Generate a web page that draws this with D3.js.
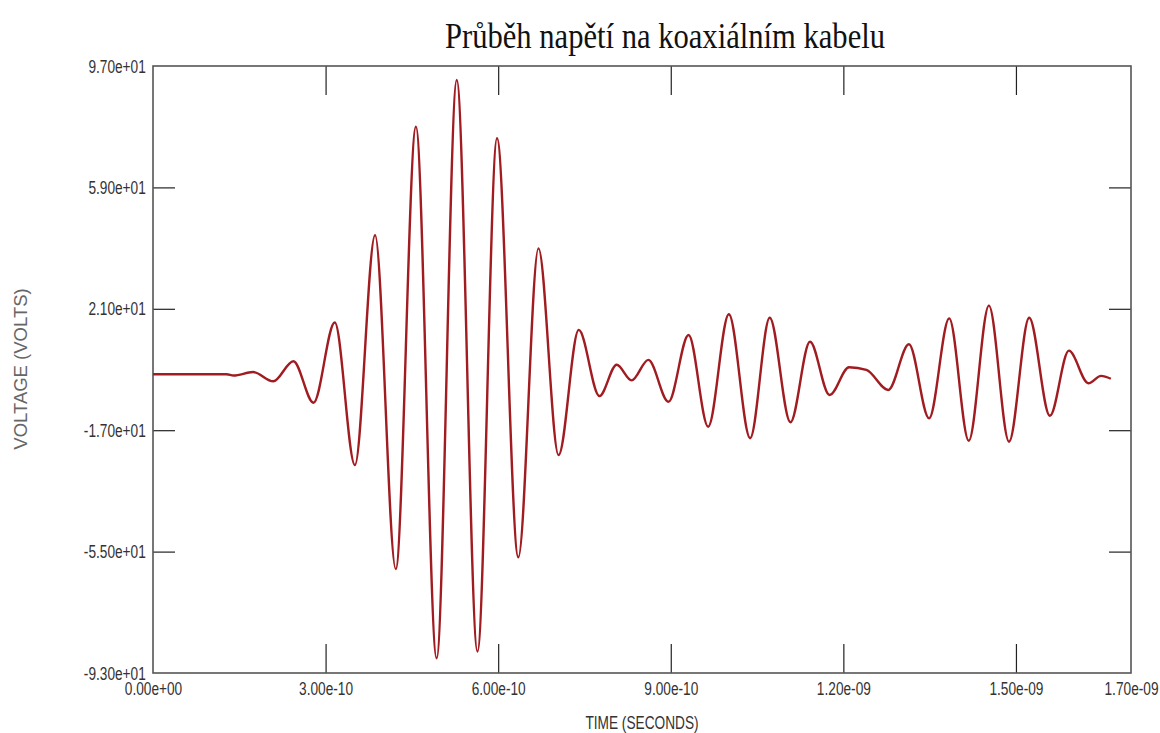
<!DOCTYPE html>
<html>
<head>
<meta charset="utf-8">
<script src="https://cdn.jsdelivr.net/npm/d3@7"></script>
<style>
  html, body { margin: 0; padding: 0; background: #fff; }
  svg { display: block; }
</style>
</head>
<body>
<svg id="chart" width="1160" height="733"></svg>
<script>
// ---- data ----
const titleText = "Průběh napětí na koaxiálním kabelu";
const xTitle = "TIME (SECONDS)";
const yTitle = "VOLTAGE (VOLTS)";

const xTickValues = [0, 3e-10, 6e-10, 9e-10, 1.2e-9, 1.5e-9, 1.7e-9];
const xTickLabels = ["0.00e+00", "3.00e-10", "6.00e-10", "9.00e-10", "1.20e-09", "1.50e-09", "1.70e-09"];
const yTickValues = [-93, -55, -17, 21, 59, 97];
const yTickLabels = ["-9.30e+01", "-5.50e+01", "-1.70e+01", "2.10e+01", "5.90e+01", "9.70e+01"];

// time in units of 1e-10 s, voltage in volts
const timeE10 = [0, 1.28, 1.40, 1.74, 2.09, 2.44, 2.79, 3.16, 3.51, 3.86, 4.22, 4.57, 4.93, 5.28, 5.64, 5.98,
  6.35, 6.70, 7.05, 7.40, 7.76, 8.06, 8.32, 8.61, 8.96, 9.31, 9.65, 10.01, 10.38, 10.72, 11.08, 11.42,
  11.76, 12.10, 12.40, 12.78, 13.14, 13.49, 13.84, 14.18, 14.53, 14.88, 15.23, 15.59, 15.92, 16.26, 16.48, 16.65];
const voltage = [0.5, 0.5, 0.1, 1.2, -1.7, 4.6, -8.4, 16.7, -27.9, 44.0, -60.5, 78.0, -88.4, 92.6, -86.3, 74.4,
  -56.8, 39.9, -24.8, 14.4, -6.3, 3.5, -1.4, 5.0, -8.1, 12.8, -15.9, 19.3, -19.5, 18.2, -14.5, 10.7,
  -6.0, 2.7, 1.9, -4.4, 9.9, -13.3, 18.0, -20.3, 22.0, -20.6, 18.2, -12.5, 7.9, -2.3, 0.0, -0.9];

// ---- drawing ----
const svg = d3.select("#chart");
const L = 153, R = 1131, T = 66, B = 673;
const sans = "'Liberation Sans', Arial, sans-serif";
const squeeze = "scale(0.72,1)";

const x = d3.scaleLinear().domain([xTickValues[0], xTickValues[xTickValues.length - 1]]).range([L, R]);
const y = d3.scaleLinear().domain([yTickValues[0], yTickValues[yTickValues.length - 1]]).range([B, T]);

const data = timeE10.map((t, i) => ({ t: t * 1e-10, v: voltage[i] }));

// title
svg.append("text")
  .attr("x", 665).attr("y", 48)
  .attr("text-anchor", "middle")
  .attr("font-family", "'Liberation Serif', 'Times New Roman', serif")
  .attr("font-size", 36)
  .attr("textLength", 440)
  .attr("lengthAdjust", "spacingAndGlyphs")
  .attr("fill", "#111")
  .text(titleText);

// inner tick marks
const innerX = xTickValues.slice(1, -1);
const innerY = yTickValues.slice(1, -1);
const tickStyle = g => { g.select(".domain").remove(); g.selectAll("line").attr("stroke", "#222").attr("stroke-width", 1.2); g.selectAll("text").remove(); };

svg.append("g").attr("transform", `translate(0,${B})`)
  .call(d3.axisBottom(x).tickValues(innerX).tickSize(-29).tickFormat(""))
  .call(tickStyle);
svg.append("g").attr("transform", `translate(0,${T})`)
  .call(d3.axisTop(x).tickValues(innerX).tickSize(-29).tickFormat(""))
  .call(tickStyle);
svg.append("g").attr("transform", `translate(${L},0)`)
  .call(d3.axisLeft(y).tickValues(innerY).tickSize(-22).tickFormat(""))
  .call(tickStyle);
svg.append("g").attr("transform", `translate(${R},0)`)
  .call(d3.axisRight(y).tickValues(innerY).tickSize(-22).tickFormat(""))
  .call(tickStyle);

// frame
svg.append("rect")
  .attr("x", L).attr("y", T).attr("width", R - L).attr("height", B - T)
  .attr("fill", "none").attr("stroke", "#555").attr("stroke-width", 1.6);

// tick labels (condensed look via horizontal squeeze)
const labelStyle = g => {
  g.select(".domain").remove();
  g.selectAll("line").remove();
  g.selectAll("text").attr("font-family", sans).attr("font-size", 19).attr("fill", "#333")
    .attr("transform", squeeze);
};
svg.append("g").attr("transform", `translate(0,${B})`)
  .call(d3.axisBottom(x).tickValues(xTickValues).tickSize(0).tickPadding(9).tickFormat((d, i) => xTickLabels[i]))
  .call(labelStyle);
svg.append("g").attr("transform", `translate(${L},0)`)
  .call(d3.axisLeft(y).tickValues(yTickValues).tickSize(0).tickPadding(10).tickFormat((d, i) => yTickLabels[i]))
  .call(labelStyle);

// axis titles
svg.append("g").attr("transform", `translate(${(L + R) / 2},729)`)
  .append("text")
  .attr("transform", squeeze)
  .attr("text-anchor", "middle")
  .attr("font-family", sans).attr("font-size", 19).attr("fill", "#333")
  .text(xTitle);
svg.append("text")
  .attr("transform", `translate(27,369) rotate(-90)`)
  .attr("text-anchor", "middle")
  .attr("font-family", sans).attr("font-size", 18.5).attr("fill", "#666")
  .text(yTitle);

// waveform
const line = d3.line().x(d => x(d.t)).y(d => y(d.v)).curve(d3.curveMonotoneX);
svg.append("path")
  .datum(data)
  .attr("d", line)
  .attr("fill", "none")
  .attr("stroke", "#a01c21")
  .attr("stroke-width", 2.4)
  .attr("stroke-linejoin", "round");
</script>
</body>
</html>
